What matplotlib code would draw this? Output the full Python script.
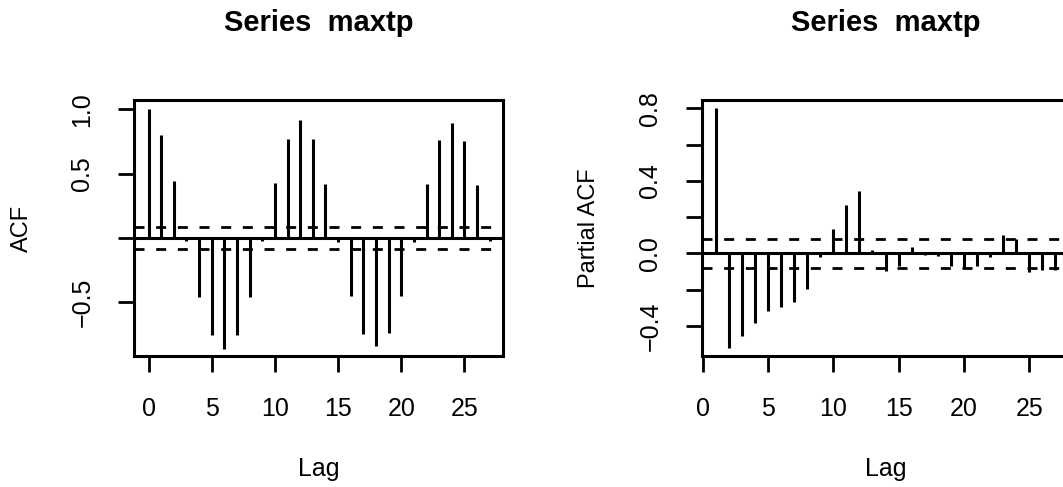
# ACF / PACF of maxtp, redrawn in the look of R's acf() output
import matplotlib
matplotlib.use('Agg')
import matplotlib.pyplot as plt

plt.rcParams['font.family'] = ['Liberation Sans', 'DejaVu Sans']
plt.rcParams['lines.scale_dashes'] = False

# values
acf_lags = list(range(0, 28))
acf_vals = [1.00, 0.80, 0.44, -0.02, -0.455, -0.755, -0.86, -0.75, -0.455, -0.02,
            0.43, 0.77, 0.915, 0.77, 0.42, -0.03, -0.45, -0.745, -0.843, -0.74,
            -0.45, -0.03, 0.42, 0.76, 0.89, 0.75, 0.415, -0.02]
pacf_lags = list(range(1, 28))
pacf_vals = [0.80, -0.524, -0.456, -0.386, -0.316, -0.294, -0.268, -0.195, -0.02,
             0.134, 0.267, 0.346, 0.018, -0.096, -0.07, 0.035, -0.01, -0.015,
             -0.07, -0.08, -0.07, -0.02, 0.10, 0.077, -0.10, -0.09, -0.09]
conf = 0.082
x_ticks = [0, 5, 10, 15, 20, 25]
title = 'Series  maxtp'

W, H = 1063, 487
fig = plt.figure(figsize=(W / 100, H / 100), dpi=100)
ax1 = fig.add_axes([134 / W, 1 - 356 / H, 369 / W, 256 / H])
ax2 = fig.add_axes([702 / W, 1 - 356 / H, 367 / W, 256 / H])


def panel(ax, lags, vals, ylab, yticks, ylabels, xlim, ylim, ylab_x):
    ax.vlines(lags, 0, vals, color='black', lw=2.2)
    ax.axhline(0, color='black', lw=2.2)
    for c in (conf, -conf):
        ax.axhline(c, color='black', lw=2.0, dashes=(7.2, 8.4))
    ax.set_xlim(xlim)
    ax.set_ylim(ylim)
    ax.set_xticks(x_ticks)
    ax.set_yticks(yticks)
    ax.set_yticklabels(ylabels, va='center')
    ax.tick_params(axis='both', direction='out', length=11.5, width=2,
                   labelsize=18, color='black')
    ax.tick_params(axis='x', pad=18)
    ax.tick_params(axis='y', labelrotation=90, pad=17)
    for s in ax.spines.values():
        s.set_linewidth(2.2)
    ax.set_title(title, fontsize=21, fontweight='bold', pad=50)
    ax.set_xlabel('Lag', fontsize=18)
    ax.xaxis.set_label_coords(0.5, -0.395)
    ax.set_ylabel(ylab, fontsize=17)
    ax.yaxis.set_label_coords(ylab_x, 0.5)


panel(ax1, acf_lags, acf_vals, 'ACF',
      [-0.5, 0.0, 0.5, 1.0], ['\u22120.5', '', '0.5', '1.0'],
      (-1.15, 28.05), (-0.917, 1.0725), -0.274)

panel(ax2, pacf_lags, pacf_vals, 'Partial ACF',
      [-0.4, -0.2, 0.0, 0.2, 0.4, 0.6, 0.8],
      ['\u22120.4', '', '0.0', '', '0.4', '', '0.8'],
      (-0.04, 28.04), (-0.566, 0.846), -0.278)

fig.savefig('out.png', dpi=100)
